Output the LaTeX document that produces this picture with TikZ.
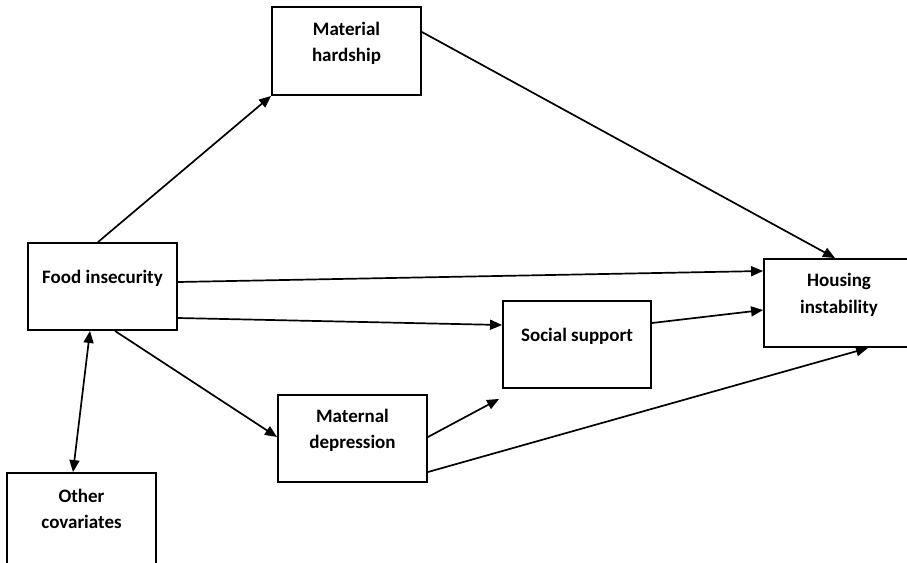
\documentclass[tikz,border=0pt]{standalone}
\usepackage{fontspec}
\setmainfont{Carlito}
\usetikzlibrary{arrows.meta}
\begin{document}
\begin{tikzpicture}[x=1pt,y=-1pt,
  box/.style={draw,line width=1.9pt,inner sep=0pt,minimum width=149pt,minimum height=87pt},
  txt/.style={font=\bfseries\fontsize{19}{26.5}\selectfont,align=center,inner sep=0pt},
  arr/.style={line width=1.7pt,-{Triangle[length=12pt,width=10pt]}},
  darr/.style={line width=1.7pt,{Triangle[length=12pt,width=10pt]}-{Triangle[length=12pt,width=10pt]}}]
\useasboundingbox (0,0) rectangle (907,562);
\clip (0,0) rectangle (907,562);
\fill[white] (0,0) rectangle (907,562);
\node[box,minimum height=88pt] (mh) at (346.5,51) {};
\node[box] (fi) at (102.5,286.5) {};
\node[box,minimum width=150pt,minimum height=88pt] (hi) at (839,303) {};
\node[box,minimum width=148pt] (ss) at (577,344.5) {};
\node[box] (md) at (352.5,438.5) {};
\node[box,minimum height=92pt] (oc) at (81.5,519) {};
\node[txt] (tmh) at ([yshift=7.5pt]mh.center) {Material\\hardship};
\node[txt] (tfi) at ([yshift=8pt]fi.center) {Food insecurity};
\node[txt] (thi) at ([yshift=8pt]hi.center) {Housing\\instability};
\node[txt] (tss) at ([yshift=8pt]ss.center) {Social support};
\node[txt] (tmd) at ([yshift=8pt]md.center) {Maternal\\depression};
\node[txt] (toc) at ([yshift=10pt]oc.center) {Other\\covariates};
\draw[arr] ([xshift=-4.5pt]fi.north) -- (mh.south west);
\draw[arr] ([yshift=19pt]mh.east) -- ([xshift=-4pt]hi.north);
\draw[arr] ([yshift=4.5pt]fi.east) -- ([yshift=32pt]hi.west);
\draw[arr] ([yshift=-31.5pt]fi.east) -- ([yshift=19.5pt]ss.west);
\draw[arr] ([xshift=12.5pt]fi.south) -- ([yshift=1.5pt]md.west);
\draw[arr] ([yshift=1.5pt]md.east) -- ([xshift=-3pt,yshift=-10pt]ss.south west);
\draw[arr] ([yshift=21.5pt]ss.east) -- ([yshift=-7pt]hi.west);
\draw[arr] ([yshift=-33.5pt]md.east) -- ([xshift=29pt]hi.south);
\draw[darr] ([xshift=-12.5pt]fi.south) -- ([xshift=-8.5pt]oc.north);
\end{tikzpicture}
\end{document}
